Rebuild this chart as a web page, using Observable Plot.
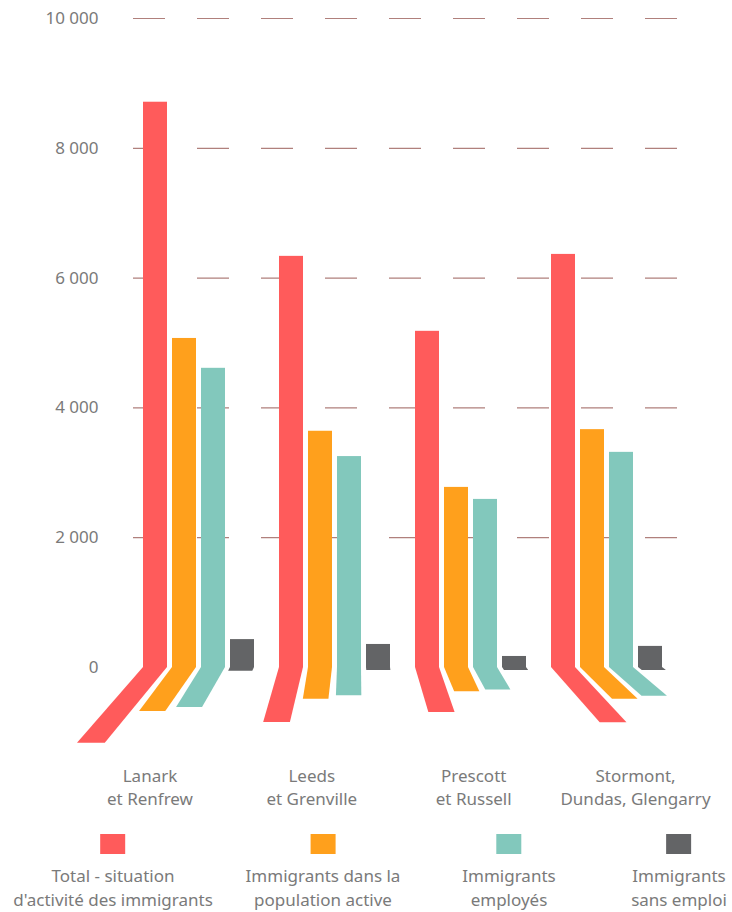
<!DOCTYPE html>
<html><head><meta charset="utf-8">
<script src="https://cdn.jsdelivr.net/npm/d3@7"></script>
<script src="https://cdn.jsdelivr.net/npm/@observablehq/plot@0.6"></script>
<style>
body{margin:0;background:#fff;font-family:"Noto Sans",sans-serif;}
#chart{position:relative;width:732px;height:912px;overflow:hidden;}
#chart svg{position:absolute;left:0;top:0;overflow:visible;}
.item{position:absolute;top:834px;transform:translateX(-50%);text-align:center;color:#7a7a7a;font-size:17px;line-height:24px;white-space:pre;}
.sw{width:25px;height:20px;margin:0 auto 10px auto;}
</style></head><body><div id="chart"></div>
<script>
const groups = ["Lanark et Renfrew", "Leeds et Grenville", "Prescott et Russell", "Stormont, Dundas, Glengarry"];
const groupLabels = ["Lanark\net Renfrew", "Leeds\net Grenville", "Prescott\net Russell", "Stormont,\nDundas, Glengarry"];
const series = ["Total - situation d'activité des immigrants", "Immigrants dans la population active", "Immigrants employés", "Immigrants sans emploi"];
const seriesLabels = ["Total - situation\nd'activité des immigrants", "Immigrants dans la\npopulation active", "Immigrants\nemployés", "Immigrants\nsans emploi"];
const colors = ["#ff5b5b", "#ffa01c", "#82c8bc", "#636466"];
const totalValues = [8710, 6335, 5180, 6365];
const activeValues = [5070, 3640, 2775, 3665];
const employedValues = [4610, 3250, 2590, 3315];
const unemployedValues = [430, 355, 170, 325];
const yTicks = [0, 2000, 4000, 6000, 8000, 10000];

const seriesValues = [totalValues, activeValues, employedValues, unemployedValues];
const data = [];
groups.forEach((g, gi) => series.forEach((s, si) => data.push({group: g, series: s, value: seriesValues[si][gi]})));
const groupRows = groups.map((g, i) => ({group: g, label: groupLabels[i]}));

const fmt = d3.formatLocale({decimal: ",", thousands: "\u00a0", grouping: [3], currency: ["", ""]}).format(",d");
const W = 732;

const plot = Plot.plot({
  width: W, height: 812,
  marginLeft: 143, marginRight: 70, marginTop: 18, marginBottom: 145,
  style: {fontFamily: "Noto Sans, sans-serif", fontSize: "17px", color: "#7a7a7a", background: "transparent", overflow: "visible"},
  fx: {domain: groups, paddingInner: 25 / 136, paddingOuter: 0, axis: null, label: null},
  x: {domain: series, paddingInner: 5 / 29, paddingOuter: 0, axis: null, label: null},
  y: {domain: [0, 10000], axis: null, label: null},
  color: {domain: series, range: colors},
  marks: [
    Plot.axisY({ticks: yTicks.filter(v => v > 0), tickSize: -544, tickFormat: () => "", label: null, dx: -10, stroke: "#b0807c", strokeWidth: 1.2, strokeDasharray: "32,32"}),
    Plot.axisY({ticks: yTicks, tickSize: 0, tickPadding: 45, tickFormat: fmt, label: null, fontSize: 17}),
    Plot.barY(data, {fx: "group", x: "series", y: "value", fill: "series", inset: 0}),
    Plot.text(groupRows, {fx: "group", text: "label", frameAnchor: "bottom", lineAnchor: "top", dy: 97, lineHeight: 1.41, fontSize: 17, fill: "#7a7a7a"})
  ]
});
const chart = document.getElementById("chart");
chart.appendChild(plot);

// perspective "shadow" style, derived from the plot's own scales
const sFx = plot.scale("fx"), sX = plot.scale("x"), sY = plot.scale("y");
const ns = "http://www.w3.org/2000/svg";
const shadowG = document.createElementNS(ns, "g");
const xr0 = Math.min(...sX.range);
const bw = sX.bandwidth;
const y0 = sY.apply(0);
data.forEach(d => {
  const xl = sFx.apply(d.group) + sX.apply(d.series) - xr0;
  const h = y0 - sY.apply(d.value);
  const dy = Math.max(3, h * 0.134);
  const dx = dy * (xl + bw / 2 - 358) / 233;
  const bwB = bw + dy * 0.05;
  const p = document.createElementNS(ns, "path");
  p.setAttribute("d", `M${xl},${y0}L${xl + bw},${y0}L${xl + dx + bwB},${y0 + dy}L${xl + dx},${y0 + dy}Z`);
  p.setAttribute("fill", colors[series.indexOf(d.series)]);
  shadowG.appendChild(p);
});
plot.appendChild(shadowG);

// shift group labels along the same perspective
const labelLines = new Set(groupLabels.flatMap(l => l.split("\n")));
plot.querySelectorAll('g[aria-label="text"] text').forEach(t => {
  const r = t.getBoundingClientRect();
  const c = r.left + r.width / 2;
  const s = 0.19 * (c - 457);
  t.setAttribute("transform", `translate(${s.toFixed(1)},0) ` + (t.getAttribute("transform") || ""));
});

const centers = [113, 323, 509, 679];
seriesLabels.forEach((s, i) => {
  const it = document.createElement("div");
  it.className = "item";
  it.style.left = centers[i] + "px";
  it.innerHTML = `<div class="sw" style="background:${colors[i]}"></div>`;
  const t = document.createElement("div");
  t.textContent = s;
  it.appendChild(t);
  chart.appendChild(it);
});
</script></body></html>
